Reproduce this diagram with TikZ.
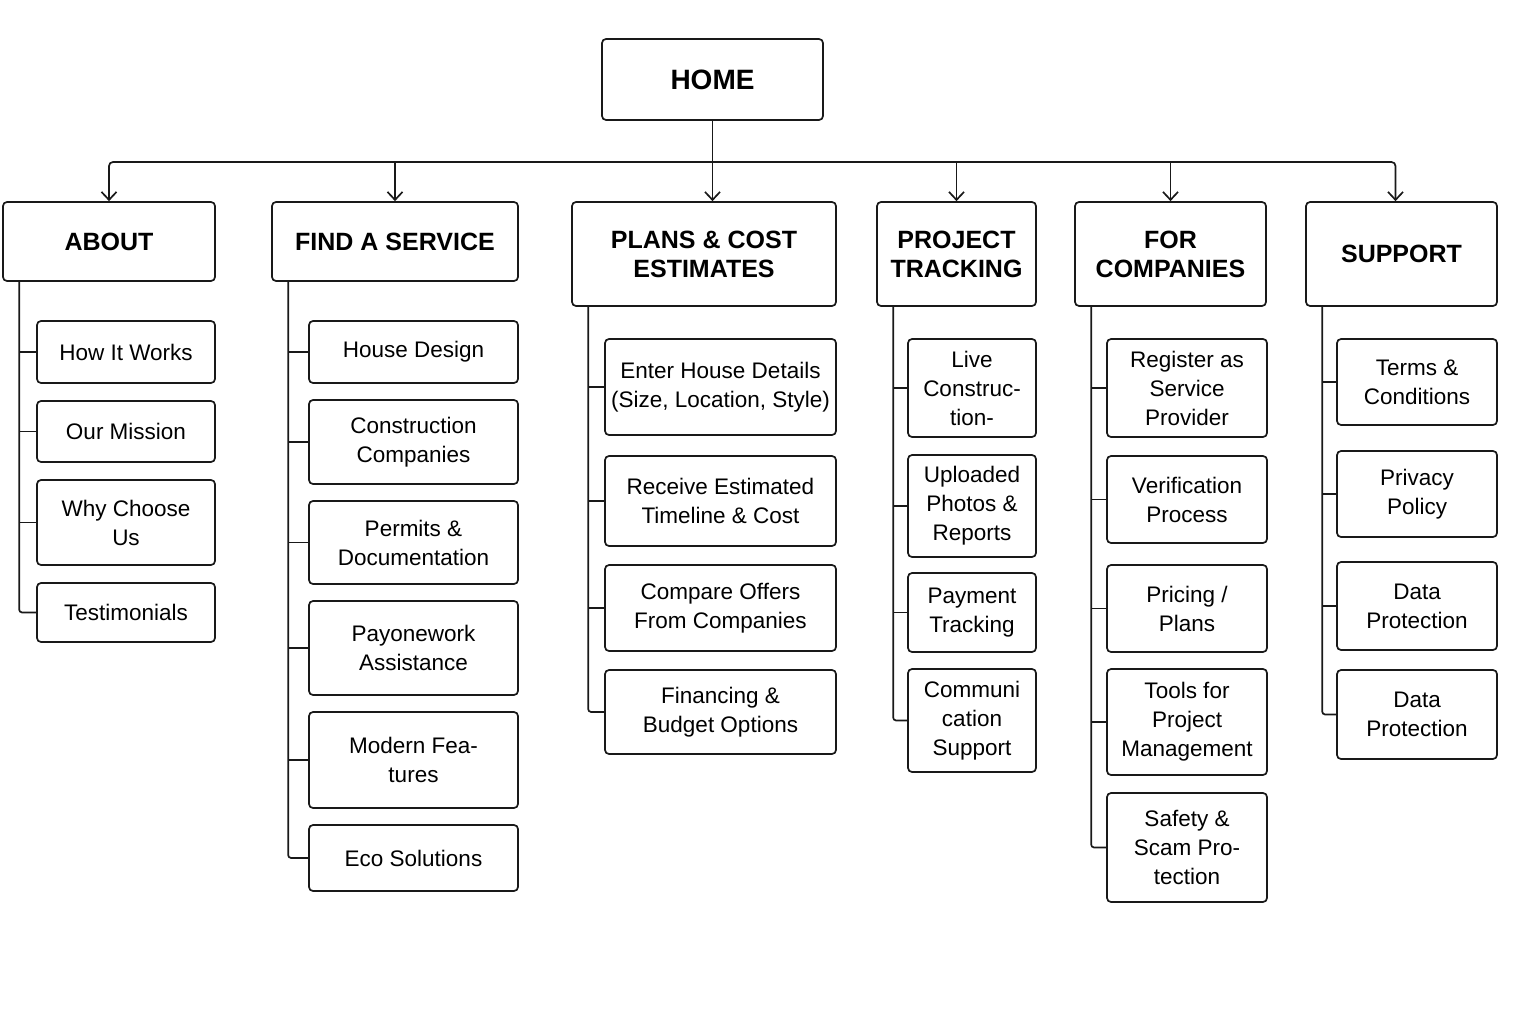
\documentclass[tikz,border=0pt]{standalone}
\usepackage{fontspec}
\setmainfont{Liberation Sans}
\usetikzlibrary{arrows.meta,positioning,calc}

\tikzset{%
  box/.style={draw=black!90, line width=1.7pt, rounded corners=4pt,
    align=center, inner sep=2pt},
  homebox/.style={box, font=\fontsize{28}{32}\selectfont\bfseries},
  headbox/.style={box, font=\fontsize{25}{29}\selectfont\bfseries},
  itembox/.style={box, font=\fontsize{22.5}{29}\selectfont},
  link/.style={line width=1.7pt, draw=black!90},
  arr/.style={link, -{Straight Barb[length=8pt,width=15pt,line width=1.7pt]}}
}

\begin{document}
\begin{tikzpicture}[x=1pt, y=-1pt]
  \useasboundingbox[fill=white] (0,0) rectangle (1536,1024);

  % top level
  \node[homebox, minimum width=221pt, minimum height=81pt] (home) at (712.5,79.5) {HOME};

  % sections
  \node[headbox, minimum width=212pt, minimum height=79pt]  (about) at (109,241.5)  {ABOUT};
  \node[headbox, minimum width=246pt, minimum height=79pt]  (find)  at (395,241.5)  {FIND A SERVICE};
  \node[headbox, minimum width=264pt, minimum height=104pt] (plans) at (704,254)    {PLANS \& COST\\ESTIMATES};
  \node[headbox, minimum width=159pt, minimum height=104pt] (track) at (956.5,254)  {PROJECT\\TRACKING};
  \node[headbox, minimum width=191pt, minimum height=104pt] (comp)  at (1170.5,254) {FOR\\COMPANIES};
  \node[headbox, minimum width=191pt, minimum height=104pt] (supp)  at (1401.5,254) {SUPPORT};

  % about
  \node[itembox, minimum width=178pt, minimum height=62pt] (ab1) at (126,352)   {How It Works};
  \node[itembox, minimum width=178pt, minimum height=61pt] (ab2) at (126,431.5) {Our Mission};
  \node[itembox, minimum width=178pt, minimum height=85pt] (ab3) at (126,522.5) {Why Choose\\Us};
  \node[itembox, minimum width=178pt, minimum height=59pt] (ab4) at (126,612.5) {Testimonials};

  % find a service
  \node[itembox, minimum width=209pt, minimum height=62pt] (fs1) at (413.5,352)   {House Design};
  \node[itembox, minimum width=209pt, minimum height=84pt] (fs2) at (413.5,442)   {Construction\\Companies};
  \node[itembox, minimum width=209pt, minimum height=83pt] (fs3) at (413.5,542.5) {Permits \&\\Documentation};
  \node[itembox, minimum width=209pt, minimum height=94pt] (fs4) at (413.5,648)   {Payonework\\Assistance};
  \node[itembox, minimum width=209pt, minimum height=96pt] (fs5) at (413.5,760)   {Modern Fea-\\tures};
  \node[itembox, minimum width=209pt, minimum height=66pt] (fs6) at (413.5,858)   {Eco Solutions};

  % plans & cost estimates
  \node[itembox, minimum width=231pt, minimum height=96pt] (pc1) at (720.5,387) {Enter House Details\\(Size, Location, Style)};
  \node[itembox, minimum width=231pt, minimum height=90pt] (pc2) at (720.5,501) {Receive Estimated\\Timeline \& Cost};
  \node[itembox, minimum width=231pt, minimum height=86pt] (pc3) at (720.5,608) {Compare Offers\\From Companies};
  \node[itembox, minimum width=231pt, minimum height=84pt] (pc4) at (720.5,712) {Financing \&\\Budget Options};

  % project tracking
  \node[itembox, minimum width=128pt, minimum height=98pt]  (pt1) at (972,388)   {Live\\Construc-\\tion-};
  \node[itembox, minimum width=128pt, minimum height=102pt] (pt2) at (972,506)   {Uploaded\\Photos \&\\Reports};
  \node[itembox, minimum width=128pt, minimum height=79pt]  (pt3) at (972,612.5) {Payment\\Tracking};
  \node[itembox, minimum width=128pt, minimum height=103pt] (pt4) at (972,720.5) {Communi\\cation\\Support};

  % for companies
  \node[itembox, minimum width=160pt, minimum height=98pt]  (fc1) at (1187,388)   {Register as\\Service\\Provider};
  \node[itembox, minimum width=160pt, minimum height=87pt]  (fc2) at (1187,499.5) {Verification\\Process};
  \node[itembox, minimum width=160pt, minimum height=87pt]  (fc3) at (1187,608.5) {Pricing /\\Plans};
  \node[itembox, minimum width=160pt, minimum height=106pt] (fc4) at (1187,722)   {Tools for\\Project\\Management};
  \node[itembox, minimum width=160pt, minimum height=109pt] (fc5) at (1187,847.5) {Safety \&\\Scam Pro-\\tection};

  % support
  \node[itembox, minimum width=160pt, minimum height=86pt] (sp1) at (1417,382)   {Terms \&\\Conditions};
  \node[itembox, minimum width=160pt, minimum height=86pt] (sp2) at (1417,494)   {Privacy\\Policy};
  \node[itembox, minimum width=160pt, minimum height=88pt] (sp3) at (1417,606)   {Data\\Protection};
  \node[itembox, minimum width=160pt, minimum height=89pt] (sp4) at (1417,714.5) {Data\\Protection};

  % bus from home to the sections
  \coordinate (bus) at (712.5,162);
  \draw[link] (home.south) -- (bus);
  \draw[arr, rounded corners=4pt] (bus) -| (about.north);
  \draw[arr, rounded corners=4pt] (bus) -| ([xshift=-6pt]supp.north);
  \foreach \hd in {find,track,comp} {%
    \draw[arr] (\hd.north |- bus) -- (\hd.north);
  }
  \draw[arr] (bus) -- (bus |- plans.north);

  % spines and ticks
  \foreach \hd/\last/\kids in {about/ab4/{ab1,ab2,ab3},%
      find/fs6/{fs1,fs2,fs3,fs4,fs5},%
      plans/pc4/{pc1,pc2,pc3},%
      track/pt4/{pt1,pt2,pt3},%
      comp/fc5/{fc1,fc2,fc3,fc4},%
      supp/sp4/{sp1,sp2,sp3}} {%
    \draw[link, rounded corners=3pt] ([xshift=17pt]\hd.south west) |- (\last.west);
    \foreach \kid in \kids {%
      \draw[link] ([xshift=17pt]\hd.south west |- \kid.west) -- (\kid.west);
    }
  }

\end{tikzpicture}
\end{document}
